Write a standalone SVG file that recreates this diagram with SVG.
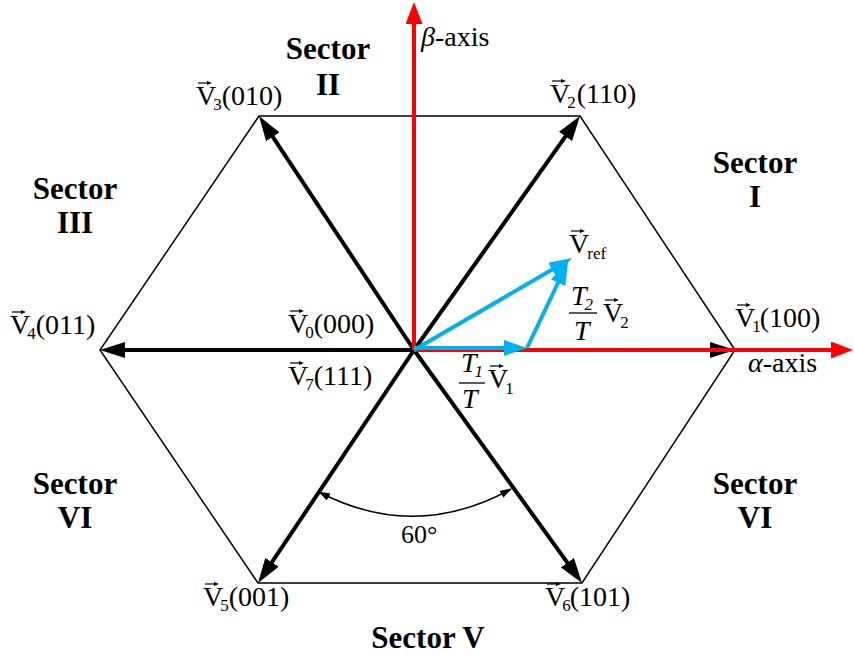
<svg xmlns="http://www.w3.org/2000/svg" width="854" height="659" viewBox="0 0 854 659" font-family="'Liberation Serif', 'DejaVu Serif', 'Times New Roman', serif">
<style>
text{font-family:'Liberation Serif','DejaVu Serif','Times New Roman',serif;fill:#000}
.lb{font-size:28px}
.sb{font-size:17px}
.sec{font-size:31px;font-weight:bold;text-anchor:middle}
.it{font-style:italic}
.hex{fill:none;stroke:#000;stroke-width:1.5}
.blk{stroke:#000;stroke-width:4;fill:none;marker-end:url(#hb)}
.red{stroke:#ff0000;stroke-width:4;fill:none;marker-end:url(#hr)}
.blu{stroke:#00b0f0;stroke-width:4;fill:none;marker-end:url(#hu)}
.acc{stroke:#000;stroke-width:1.2;fill:none;marker-end:url(#ha)}
.bar{stroke:#000;stroke-width:1.3}
</style>
<defs>
<marker id="hb" markerUnits="userSpaceOnUse" markerWidth="25" markerHeight="16" refX="15" refY="8" orient="auto"><path d="M0,0 L25,8 L0,16 z" fill="#000"/></marker>
<marker id="hr" markerUnits="userSpaceOnUse" markerWidth="22" markerHeight="17" refX="12" refY="8.5" orient="auto"><path d="M0,0 L22,8.5 L0,17 z" fill="#ff0000"/></marker>
<marker id="hu" markerUnits="userSpaceOnUse" markerWidth="23" markerHeight="16" refX="13" refY="8" orient="auto"><path d="M0,0 L23,8 L0,16 z" fill="#00b0f0"/></marker>
<marker id="ha" markerUnits="userSpaceOnUse" markerWidth="5" markerHeight="4" refX="1" refY="2" orient="auto"><path d="M0,0 L5,2 L0,4 z" fill="#000"/></marker>
<marker id="hs" markerUnits="userSpaceOnUse" markerWidth="12" markerHeight="8" refX="11" refY="4" orient="auto-start-reverse"><path d="M0,0 L12,4 L0,8 z" fill="#000"/></marker>
</defs>

<g id="hexagon">
<polygon class="hex" points="735,350 580,116 259,116 100,350 258,583 582,583"/>
</g>

<g id="connectors">
<line class="blk" x1="414" y1="350" x2="725" y2="350"/>
<line class="blk" x1="414" y1="350" x2="574.2" y2="124.2"/>
<line class="blk" x1="414" y1="350" x2="264.5" y2="124.3"/>
<line class="blk" x1="414" y1="350" x2="110" y2="350"/>
<line class="blk" x1="414" y1="350" x2="263.6" y2="574.7"/>
<line class="blk" x1="414" y1="350" x2="576.2" y2="574.9"/>
<line class="red" x1="414" y1="350" x2="414" y2="12"/>
<line class="red" x1="414" y1="350" x2="843" y2="350"/>
<line class="blu" x1="414" y1="348" x2="517" y2="348"/>
<line class="blu" x1="414" y1="350" x2="563.4" y2="263"/>
<line class="blu" x1="527" y1="348" x2="563.7" y2="271"/>
<path d="M319,492 Q415,542 511,489" fill="none" stroke="#000" stroke-width="1.5" marker-start="url(#hs)" marker-end="url(#hs)"/>
</g>

<g id="v3">
<text class="lb" x="196" y="105">V<tspan class="sb" dx="-3" dy="5">3</tspan><tspan dx="0" dy="-5">(010)</tspan></text>
<path class="acc" d="M198,83 h10"/>
</g>
<g id="v2">
<text class="lb" x="550" y="103">V<tspan class="sb" dx="-3" dy="5">2</tspan><tspan dx="1" dy="-5">(110)</tspan></text>
<path class="acc" d="M552,81 h10"/>
</g>
<g id="v4">
<text class="lb" x="10" y="334">V<tspan class="sb" dx="-3" dy="5">4</tspan><tspan dx="0" dy="-5">(011)</tspan></text>
<path class="acc" d="M12,312 h10"/>
</g>
<g id="v0">
<text class="lb" x="288" y="333">V<tspan class="sb" dx="-3" dy="5">0</tspan><tspan dx="0" dy="-5">(000)</tspan></text>
<path class="acc" d="M290,311 h10"/>
</g>
<g id="v7">
<text class="lb" x="288" y="385">V<tspan class="sb" dx="-3" dy="5">7</tspan><tspan dx="0" dy="-5">(111)</tspan></text>
<path class="acc" d="M290,363 h10"/>
</g>
<g id="v1">
<text class="lb" x="735" y="327">V<tspan class="sb" dx="-3" dy="5">1</tspan><tspan dx="-1" dy="-5">(100)</tspan></text>
<path class="acc" d="M737,305 h10"/>
</g>
<g id="v5">
<text class="lb" x="203" y="606">V<tspan class="sb" dx="-3" dy="5">5</tspan><tspan dx="0" dy="-5">(001)</tspan></text>
<path class="acc" d="M205,584 h10"/>
</g>
<g id="v6">
<text class="lb" x="545" y="606">V<tspan class="sb" dx="-3" dy="5">6</tspan><tspan dx="-1" dy="-5">(101)</tspan></text>
<path class="acc" d="M547,584 h10"/>
</g>
<g id="vref">
<text class="lb" x="569" y="253">V<tspan class="sb" dx="-2" dy="6">ref</tspan></text>
<path class="acc" d="M571,231 h10"/>
</g>
<g id="t2v2">
<text class="lb it" x="571" y="305">T<tspan class="sb" dx="-2" dy="5">2</tspan></text>
<line class="bar" x1="569" y1="313" x2="597" y2="313"/>
<text class="lb it" x="574" y="340">T</text>
<text class="lb" x="603" y="322">V<tspan class="sb" dx="-3" dy="6">2</tspan></text>
<path class="acc" d="M605,300 h10"/>
</g>
<g id="t1v1">
<text class="lb it" x="461" y="372">T<tspan class="sb" dx="-2" dy="5">1</tspan></text>
<line class="bar" x1="459" y1="383" x2="485" y2="383"/>
<text class="lb it" x="462" y="408">T</text>
<text class="lb" x="488" y="388">V<tspan class="sb" dx="-3" dy="6">1</tspan></text>
<path class="acc" d="M490,366 h10"/>
</g>
<g id="alpha-label"><text class="lb" x="748" y="372"><tspan class="it">α</tspan>-axis</text></g>
<g id="beta-label"><text class="lb" x="421" y="46"><tspan class="it">β</tspan>-axis</text></g>
<g id="angle-label"><text x="401" y="543" style="font-size:26px">60°</text></g>

<g id="sector1"><text class="sec" x="755" y="173">Sector</text><text class="sec" x="755" y="207">I</text></g>
<g id="sector2"><text class="sec" x="328" y="59">Sector</text><text class="sec" x="328" y="95">II</text></g>
<g id="sector3"><text class="sec" x="75" y="199">Sector</text><text class="sec" x="75" y="233">III</text></g>
<g id="sector4"><text class="sec" x="75" y="494">Sector</text><text class="sec" x="75" y="528">VI</text></g>
<g id="sector5"><text class="sec" x="428" y="648">Sector V</text></g>
<g id="sector6"><text class="sec" x="755" y="494">Sector</text><text class="sec" x="755" y="528">VI</text></g>
</svg>
